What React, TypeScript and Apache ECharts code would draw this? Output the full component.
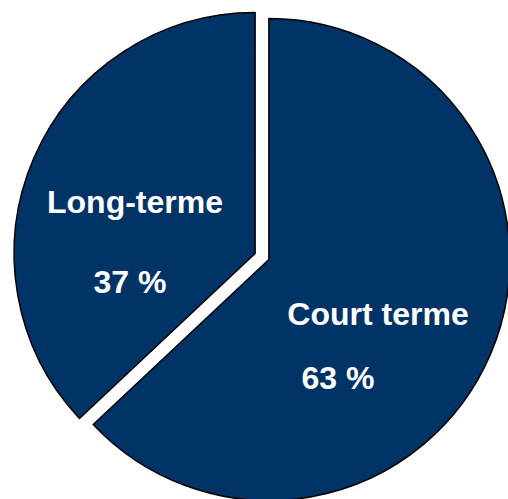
import React, { useEffect, useRef } from "react";
import * as echarts from "echarts";

const categories = ["Court terme", "Long-terme"];
const values = [63, 37];

export default function App() {
  const ref = useRef<HTMLDivElement>(null);
  useEffect(() => {
    if (!ref.current) return;
    const chart = echarts.init(ref.current, null, { renderer: "svg" });
    const font = { fontFamily: "Liberation Sans, Arial, sans-serif", fontWeight: "bold" as const, fontSize: 32, fill: "#ffffff" };
    chart.setOption({
      animation: false,
      backgroundColor: "#ffffff",
      series: [
        {
          type: "pie",
          center: [262, 256.5],
          radius: [0, 241],
          startAngle: 90,
          clockwise: true,
          selectedMode: "multiple",
          selectedOffset: 7.5,
          silent: true,
          label: { show: false },
          labelLine: { show: false },
          emphasis: { disabled: true },
          itemStyle: { color: "#003366", borderColor: "#000000", borderWidth: 1.5 },
          data: categories.map((c, i) => ({ name: c, value: values[i], selected: true })),
        },
      ],
      graphic: [
        { type: "text", z: 100, x: 378, y: 330, style: { ...font, text: categories[0], align: "center", verticalAlign: "bottom" } },
        { type: "text", z: 100, x: 338, y: 394, style: { ...font, text: `${values[0]} %`, align: "center", verticalAlign: "bottom" } },
        { type: "text", z: 100, x: 135, y: 218, style: { ...font, text: categories[1], align: "center", verticalAlign: "bottom" } },
        { type: "text", z: 100, x: 130, y: 298, style: { ...font, text: `${values[1]} %`, align: "center", verticalAlign: "bottom" } },
      ],
    });
    return () => chart.dispose();
  }, []);
  return <div ref={ref} style={{ position: "fixed", left: 0, top: 0, width: 508, height: 499 }} />;
}
